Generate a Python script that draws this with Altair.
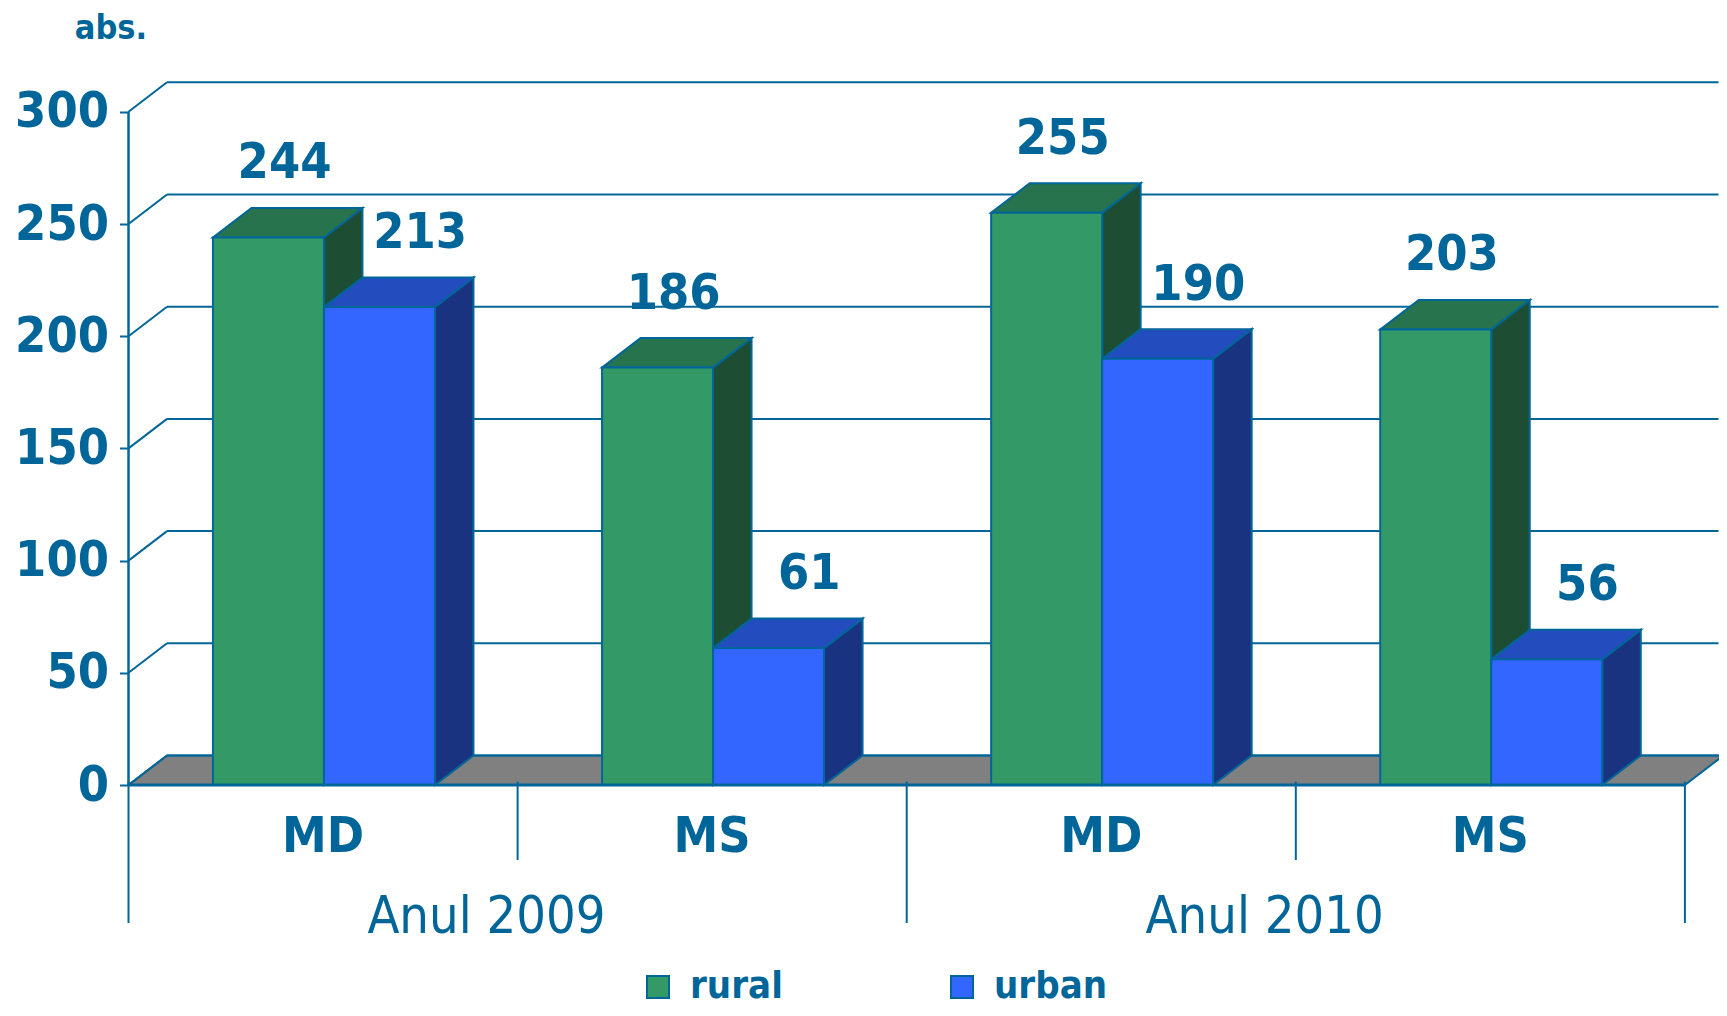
import altair as alt
import pandas as pd

# ---------------- data ----------------
years = ["Anul 2009", "Anul 2009", "Anul 2010", "Anul 2010"]
categories = ["MD", "MS", "MD", "MS"]
series = ["rural", "urban"]
rural = [244, 186, 255, 203]
urban = [213, 61, 190, 56]
y_ticks = [0, 50, 100, 150, 200, 250, 300]
year_labels = ["Anul 2009", "Anul 2010"]

# ---------------- layout / style ----------------
FONT = "DejaVu Sans Condensed, DejaVu Sans"
TXT = "#006699"
LINE = "#006699"
FRONT = ["#339966", "#3366FF"]
TOP = ["#26734D", "#234DBF"]
SIDE = ["#1D4D32", "#1A3380"]
FLOOR = "#808080"

PAD_L = 120.5
W = 1590
H = 1000
GROUP_PX = 389.1
PX_PER_UNIT = 2.244
ORIGIN_Y = 777
DX_PX = 38.5
DY_PX = 29.5
BAR_START = 0.217
BAR_W = 0.2853
LABEL_GAP = 33
LABEL_SHIFT = {"rural": -0.008, "urban": 0.055}

x_max = W / GROUP_PX
y_max = ORIGIN_Y / PX_PER_UNIT
y_min = -(H - ORIGIN_Y) / PX_PER_UNIT
dxu = DX_PX / GROUP_PX
dyv = DY_PX / PX_PER_UNIT
n_groups = len(categories)

xs = alt.Scale(domain=[0, x_max], nice=False, zero=False)
ys = alt.Scale(domain=[y_min, y_max], nice=False, zero=False)

# ---------------- derived tables ----------------
fronts, sides, tops = [], [], []
values = {"rural": rural, "urban": urban}
bid = 0
for s_i, s in enumerate(series):
    for g in range(n_groups):
        v = values[s][g]
        x0 = g + BAR_START + s_i * BAR_W
        x1 = x0 + BAR_W
        fronts.append(dict(series=s, x0=x0, x1=x1, v=v,
                           lx=(x0 + x1) / 2 + dxu / 2 + LABEL_SHIFT[s],
                           ly=v + LABEL_GAP, label=str(v)))
        sides.append(dict(bid=bid, series=s, x=x1, y=v, y2=0))
        sides.append(dict(bid=bid, series=s, x=x1 + dxu, y=v + dyv, y2=dyv))
        tops.append(dict(bid=bid, series=s, y=v, x=x0, x2=x1))
        tops.append(dict(bid=bid, series=s, y=v + dyv, x=x0 + dxu, x2=x1 + dxu))
        bid += 1
fronts = pd.DataFrame(fronts)
sides = pd.DataFrame(sides)
tops = pd.DataFrame(tops)

floor = pd.DataFrame([dict(y=0, x=0, x2=n_groups), dict(y=dyv, x=dxu, x2=n_groups + dxu)])
grid = pd.DataFrame([dict(y=t + dyv, yf=t, x=dxu, x0=0, x2=x_max) for t in y_ticks])
front_axis = pd.DataFrame([dict(x=0, x2=n_groups, y=0, y0=0, y1=max(y_ticks))])
sep = pd.DataFrame([dict(x=b, y=1.5, y2=(-61.5 if b % 2 == 0 else -33.4)) for b in range(n_groups + 1)])
cats = pd.DataFrame([dict(x=g + 0.5, y=-23.2, t=categories[g]) for g in range(n_groups)])
yrs = pd.DataFrame([dict(x=1 + 2 * j - 0.08, y=-58.8, t=year_labels[j]) for j in range(len(year_labels))])

NOAX = None

Y_AXIS = alt.Axis(
    values=y_ticks, orient="left", domain=False, grid=False, ticks=True, tickSize=9, tickWidth=2,
    tickColor=LINE, labelFont=FONT, labelFontSize=50, labelFontWeight="bold", labelColor=TXT,
    labelPadding=11, title="abs.", titleAngle=0, titleFont=FONT, titleFontSize=34,
    titleFontWeight="bold", titleColor=TXT, titleX=-18, titleY=20, titleAlign="center",
    titleBaseline="middle")

# ---------------- layers ----------------
floor_l = alt.Chart(floor).mark_area(orient="horizontal", fill=FLOOR, stroke=LINE, strokeWidth=2).encode(
    y=alt.Y("y:Q", scale=ys, axis=NOAX), x=alt.X("x:Q", scale=xs, axis=NOAX), x2="x2:Q")

grid_l = alt.Chart(grid).mark_rule(color=LINE, strokeWidth=2).encode(
    x=alt.X("x:Q", scale=xs, axis=NOAX), x2="x2:Q", y=alt.Y("y:Q", scale=ys, axis=NOAX))

diag_l = alt.Chart(grid).mark_rule(color=LINE, strokeWidth=2).encode(
    x=alt.X("x0:Q", scale=xs, axis=NOAX), x2="x:Q",
    y=alt.Y("yf:Q", scale=ys, axis=NOAX), y2="y:Q")

yline_l = alt.Chart(front_axis).mark_rule(color=LINE, strokeWidth=2.5).encode(
    x=alt.X("y0:Q", scale=xs, axis=NOAX),
    y=alt.Y("y0:Q", scale=ys, axis=Y_AXIS), y2="y1:Q")

xline_l = alt.Chart(front_axis).mark_rule(color=LINE, strokeWidth=3).encode(
    x=alt.X("x:Q", scale=xs, axis=NOAX), x2="x2:Q", y=alt.Y("y:Q", scale=ys, axis=NOAX))

sep_l = alt.Chart(sep).mark_rule(color=LINE, strokeWidth=2).encode(
    x=alt.X("x:Q", scale=xs, axis=NOAX), y=alt.Y("y:Q", scale=ys, axis=NOAX), y2="y2:Q")

side_l = alt.Chart(sides).mark_area(stroke=LINE, strokeWidth=2, opacity=1).encode(
    x=alt.X("x:Q", scale=xs, axis=NOAX), y=alt.Y("y:Q", scale=ys, axis=NOAX), y2="y2:Q",
    fill=alt.Fill("series:N", scale=alt.Scale(domain=series, range=SIDE), legend=None),
    detail="bid:N")

top_l = alt.Chart(tops).mark_area(orient="horizontal", stroke=LINE, strokeWidth=2, opacity=1).encode(
    y=alt.Y("y:Q", scale=ys, axis=NOAX), x=alt.X("x:Q", scale=xs, axis=NOAX), x2="x2:Q",
    fill=alt.Fill("series:N", scale=alt.Scale(domain=series, range=TOP), legend=None),
    detail="bid:N")

front_l = alt.Chart(fronts).mark_rect(stroke=LINE, strokeWidth=2, opacity=1).encode(
    x=alt.X("x0:Q", scale=xs, axis=NOAX), x2="x1:Q",
    y=alt.Y("v:Q", scale=ys, axis=NOAX), y2=alt.datum(0),
    fill=alt.Fill("series:N", scale=alt.Scale(domain=series, range=FRONT), legend=alt.Legend(
        title=None, orient="none", legendX=510.5, legendY=960, direction="horizontal",
        symbolType="square", symbolSize=484, symbolStrokeColor=LINE, symbolStrokeWidth=2,
        symbolOpacity=1, labelFont=FONT, labelFontSize=38, labelFontWeight="bold",
        labelColor=TXT, labelOffset=13, columnPadding=160)))

val_l = alt.Chart(fronts).mark_text(font=FONT, fontSize=50, fontWeight="bold", color=TXT,
                                    align="center", baseline="middle").encode(
    x=alt.X("lx:Q", scale=xs, axis=NOAX), y=alt.Y("ly:Q", scale=ys, axis=NOAX), text="label:N")

cat_l = alt.Chart(cats).mark_text(font=FONT, fontSize=50, fontWeight="bold", color=TXT,
                                  align="center", baseline="middle").encode(
    x=alt.X("x:Q", scale=xs, axis=NOAX), y=alt.Y("y:Q", scale=ys, axis=NOAX), text="t:N")

yr_l = alt.Chart(yrs).mark_text(font=FONT, fontSize=52, color=TXT,
                                align="center", baseline="middle").encode(
    x=alt.X("x:Q", scale=xs, axis=NOAX), y=alt.Y("y:Q", scale=ys, axis=NOAX), text="t:N")

chart = alt.layer(
    floor_l, grid_l, diag_l, yline_l, sep_l, side_l, top_l, front_l, xline_l, val_l, cat_l, yr_l
).resolve_scale(fill="independent").resolve_axis(y="independent", x="independent").properties(
    width=W, height=H, padding={"left": PAD_L, "top": 0, "right": 0, "bottom": 0},
    autosize=alt.AutoSizeParams(type="none"), background="white"
).configure_view(stroke=None)

chart.save("out.html", embed_options={"renderer": "svg", "actions": False})
